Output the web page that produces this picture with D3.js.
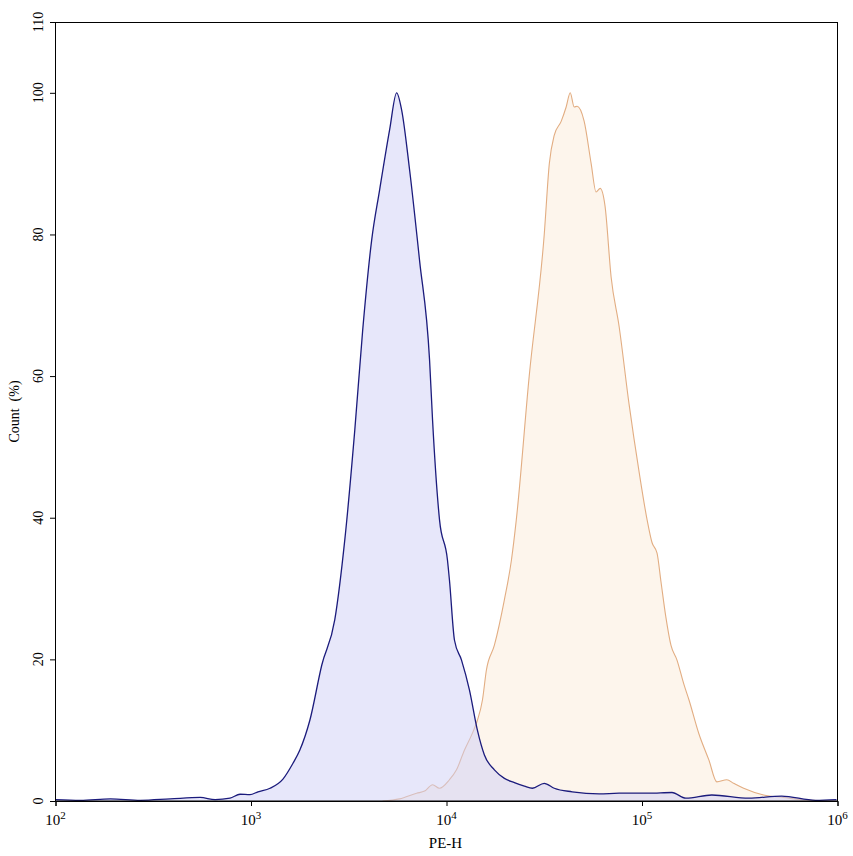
<!DOCTYPE html>
<html>
<head>
<meta charset="utf-8">
<script src="https://cdn.jsdelivr.net/npm/d3@7/dist/d3.min.js"></script>
<style>
  body { margin: 0; background: #fff; }
  .axis text { font-family: "Liberation Serif", "Times New Roman", serif; }
</style>
</head>
<body>
<div class="histogram"></div>
<script>
var totalWidth = 853;
var totalHeight = 856;

var margin = {
  top: 22,
  left: 55,
  bottom: 55,
  right: 15
};

var width = totalWidth - margin.left - margin.right;
var height = totalHeight - margin.top - margin.bottom;

// DATA STUFF

// control (blue) histogram: PE-H value, count %
var controlPE = [100, 134, 191, 272, 386, 550, 655, 781, 879, 988, 1086, 1251, 1457, 1637,
  1778, 2000, 2302, 2683, 3019, 3396, 3727, 4142, 4550, 5119, 5559, 5894, 6476, 7283,
  8190, 8485, 9211, 10117, 10354, 10987, 11935, 13099, 14388, 15626, 17579, 19776,
  22248, 25029, 27483, 31623, 35572, 43954, 60397, 76384, 108700, 142300, 167600,
  227500, 351600, 517900, 772400, 988000];
var controlCount = [0.2, 0.1, 0.3, 0.1, 0.3, 0.5, 0.2, 0.4, 0.95, 0.9, 1.3, 1.8, 3.1, 5.3,
  7.2, 11.4, 19.2, 25.6, 36.9, 52.4, 66.5, 79.2, 86.3, 94.8, 100, 97.6, 89.1, 76.3,
  62.3, 53.8, 39.7, 34.0, 31.2, 22.7, 19.9, 15.7, 10, 6.5, 4.4, 3.2,
  2.6, 2.1, 1.8, 2.5, 1.8, 1.3, 1.0, 1.1, 1.1, 1.2, 0.4,
  0.85, 0.4, 0.7, 0.1, 0.2];

// stained (orange) histogram
var stainedPE = [4710, 5754, 7031, 7727, 8492, 9204, 10350, 11250, 12360, 13430, 14390,
  15280, 16000, 17580, 19770, 21480, 22750, 26490, 31620, 33570, 35560, 38640, 40930,
  42950, 44980, 46560, 50580, 54950, 58210, 61090, 64710, 69500, 76380, 85900, 96600,
  106200, 112500, 119400, 125000, 132400, 140600, 151000, 163700, 173800, 195400,
  219800, 241500, 271600, 294400, 331100, 418800, 529700, 671500, 988600];
var stainedCount = [0, 0.3, 1.1, 1.4, 2.3, 1.8, 3, 4.4, 7.2, 9.3, 11.4,
  14.3, 18.5, 22, 28.4, 34, 39.7, 60, 80, 90, 94, 96, 98,
  100, 98, 98.1, 96, 90, 86, 86.5, 84, 74, 67, 56, 46.5,
  39.7, 36.5, 35, 31, 26, 22, 19.9, 16.5, 14.3, 9.5,
  5.8, 2.7, 3, 2.5, 1.8, 0.85, 0.5, 0.15, 0];

var xTickValues = [1e2, 1e3, 1e4, 1e5, 1e6];
var yTickValues = [0, 20, 40, 60, 80, 100, 110];

var controlData = controlPE.map(function(v, i) {
  return { x: v, y: controlCount[i] };
});
var stainedData = stainedPE.map(function(v, i) {
  return { x: v, y: stainedCount[i] };
});

// SCALES
var xScale = d3
  .scaleLog()
  .domain([1e2, 1e6])
  .range([0.5, width - 0.5]);

var yScale = d3
  .scaleLinear()
  .domain([0, 110])
  .range([height, 0]);

// minor ticks: 2..9 per decade, every 4 % on y
var xMinor = [];
for (var e = 2; e < 6; e++) {
  for (var k = 2; k < 10; k++) {
    xMinor.push(k * Math.pow(10, e));
  }
}
var yMinor = d3.range(0, 111, 4).filter(function(v) {
  return yTickValues.indexOf(v) < 0;
});

// SVG GROUP HIERARCHY
var svg = d3
  .select(".histogram")
  .append("svg")
  .attr("width", totalWidth)
  .attr("height", totalHeight)
  .style("display", "block");

var mainGroup = svg
  .append("g")
  .attr("transform", "translate(" + margin.left + "," + margin.top + ")");

var area = d3
  .area()
  .x(function(d) { return xScale(d.x); })
  .y0(height)
  .y1(function(d) { return yScale(d.y); })
  .curve(d3.curveMonotoneX);

var line = d3
  .line()
  .x(function(d) { return xScale(d.x); })
  .y(function(d) { return yScale(d.y); })
  .curve(d3.curveMonotoneX);

// orange first, blue over it
mainGroup.append("path")
  .datum(stainedData)
  .attr("d", area)
  .attr("fill", "#fcebda")
  .attr("fill-opacity", 0.5);

mainGroup.append("path")
  .datum(stainedData)
  .attr("d", line)
  .attr("fill", "none")
  .attr("stroke", "#e2ad82")
  .attr("stroke-width", 1.1);

mainGroup.append("path")
  .datum(controlData)
  .attr("d", area)
  .attr("fill", "#cfcff6")
  .attr("fill-opacity", 0.5);

mainGroup.append("path")
  .datum(controlData)
  .attr("d", line)
  .attr("fill", "none")
  .attr("stroke", "#1b1b7c")
  .attr("stroke-width", 1.3);

// FRAME
mainGroup.append("rect")
  .attr("x", 0.5)
  .attr("y", 0.5)
  .attr("width", width - 1)
  .attr("height", height - 0.5)
  .attr("fill", "none")
  .attr("stroke", "#000")
  .attr("stroke-width", 1);

// X AXIS
var xAxisGroup = mainGroup
  .append("g")
  .attr("class", "axis")
  .attr("transform", "translate(0," + height + ")");

xAxisGroup.call(
  d3.axisBottom(xScale).tickValues(xMinor).tickSize(3).tickFormat("")
);
xAxisGroup.call(function(g) {
  g.call(d3.axisBottom(xScale).tickValues(xTickValues).tickSize(5).tickFormat(""));
  g.selectAll(".domain").attr("stroke", "#000");
});

var xLabels = xAxisGroup
  .selectAll(".xlabel")
  .data(xTickValues)
  .enter()
  .append("text")
  .attr("class", "xlabel")
  .attr("x", function(d) { return xScale(d); })
  .attr("y", 24)
  .attr("text-anchor", "middle")
  .attr("fill", "#000")
  .attr("font-size", 15);

xLabels.append("tspan").text("10");
xLabels.append("tspan")
  .attr("dy", -6)
  .attr("font-size", 11)
  .text(function(d) { return Math.round(Math.log10(d)); });

xAxisGroup.append("text")
  .attr("x", xScale(1e4) - 1)
  .attr("y", 47)
  .attr("text-anchor", "middle")
  .attr("fill", "#000")
  .attr("font-size", 15)
  .text("PE-H");

// Y AXIS
var yAxisGroup = mainGroup.append("g").attr("class", "axis");

yAxisGroup.call(
  d3.axisLeft(yScale).tickValues(yMinor).tickSize(3).tickFormat("")
);
yAxisGroup.call(function(g) {
  g.call(d3.axisLeft(yScale).tickValues(yTickValues).tickSize(5).tickFormat(""));
  g.selectAll(".domain").attr("stroke", "#000");
});

yAxisGroup
  .selectAll(".ylabel")
  .data(yTickValues)
  .enter()
  .append("text")
  .attr("class", "ylabel")
  .attr("transform", function(d) {
    return "translate(-12," + yScale(d) + ") rotate(-90)";
  })
  .attr("text-anchor", "middle")
  .attr("fill", "#000")
  .attr("font-size", 14)
  .text(function(d) { return d; });

yAxisGroup.append("text")
  .attr("transform", "translate(-36," + height / 2 + ") rotate(-90)")
  .attr("text-anchor", "middle")
  .attr("fill", "#000")
  .attr("font-size", 14)
  .style("white-space", "pre")
  .text("Count  (%)");
</script>
</body>
</html>
